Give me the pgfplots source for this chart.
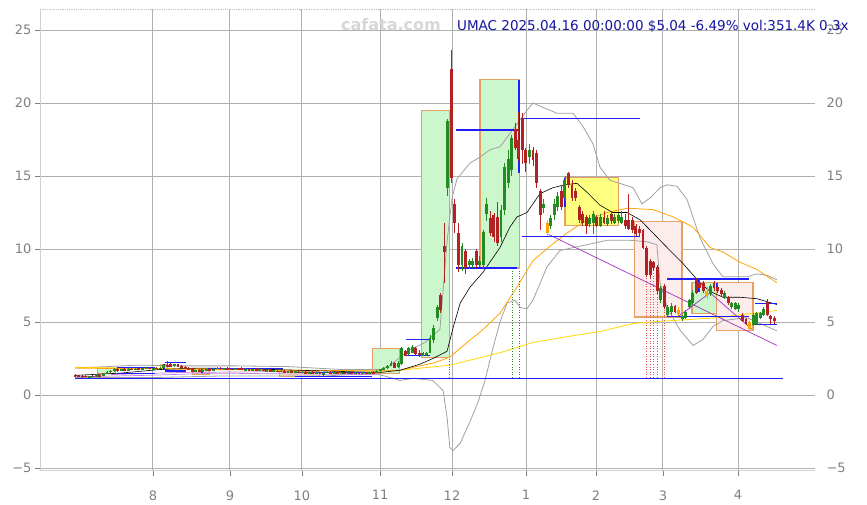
\documentclass[border=0pt]{standalone}
\usepackage{fontspec}
\setmainfont{DejaVu Sans}
\usepackage{pgfplots}
\usepackage{pgfplotstable}
\pgfplotsset{compat=1.18}
\definecolor{cgreen}{RGB}{34,139,34}
\definecolor{cred}{RGB}{178,34,34}
\definecolor{corange}{RGB}{255,165,0}
\definecolor{cgold}{RGB}{255,215,0}
\definecolor{cgrid}{RGB}{176,176,176}
\definecolor{ctick}{RGB}{128,128,128}
\definecolor{lvlblue}{RGB}{30,30,255}
\definecolor{cpurple}{RGB}{160,50,190}
\definecolor{boxgreen}{RGB}{204,247,204}
\definecolor{boxyellow}{RGB}{255,255,128}
\definecolor{boxpink}{RGB}{252,236,236}
\definecolor{boxtan}{RGB}{250,225,190}
\definecolor{boxedge}{RGB}{230,160,100}
\definecolor{ctitle}{RGB}{20,20,160}
\definecolor{cbb}{RGB}{160,160,160}
\definecolor{cdot}{RGB}{224,80,80}

\pgfplotstableread{
i o h l c k
0 1.40 1.45 1.22 1.28 -1
1 1.35 1.40 1.22 1.25 -1
2 1.32 1.38 1.20 1.24 -1
3 1.30 1.36 1.22 1.27 -1
4 1.24 1.34 1.18 1.30 1
5 1.32 1.38 1.22 1.25 -1
6 1.28 1.40 1.24 1.36 1
7 1.38 1.45 1.28 1.30 -1
8 1.32 1.50 1.30 1.46 1
9 1.45 1.62 1.42 1.58 1
10 1.56 1.72 1.50 1.68 1
11 1.66 1.85 1.60 1.80 1
12 1.78 1.84 1.60 1.64 -1
13 1.66 1.80 1.62 1.76 1
14 1.78 1.88 1.66 1.70 -1
15 1.70 1.82 1.66 1.78 1
16 1.80 1.86 1.70 1.74 -1
17 1.74 1.84 1.70 1.80 1
18 1.82 1.88 1.72 1.76 -1
19 1.74 1.86 1.70 1.82 1
20 1.80 1.90 1.76 1.86 1
21 1.86 1.92 1.76 1.80 -1
22 1.78 1.88 1.72 1.84 1
23 1.84 1.90 1.76 1.80 -1
24 1.80 1.92 1.78 1.88 1
25 1.88 2.10 1.85 2.05 1
26 2.05 2.30 1.95 2.00 -1
27 2.15 2.20 1.90 1.95 -1
28 2.00 2.15 1.95 2.10 1
29 2.10 2.15 1.90 1.95 -1
30 2.00 2.05 1.82 1.86 -1
31 1.90 1.98 1.80 1.84 -1
32 1.85 1.92 1.72 1.78 -1
33 1.80 1.85 1.55 1.60 -1
34 1.65 1.75 1.58 1.70 1
35 1.70 1.78 1.60 1.64 -1
36 1.62 1.76 1.58 1.72 1
37 1.72 1.80 1.66 1.76 1
38 1.78 1.82 1.64 1.68 -1
39 1.68 1.84 1.64 1.80 1
40 1.80 1.90 1.76 1.84 1
41 1.86 1.92 1.74 1.78 -1
42 1.78 1.86 1.72 1.82 1
43 1.84 1.90 1.74 1.76 -1
44 1.80 1.88 1.70 1.74 -1
45 1.76 1.84 1.70 1.80 1
46 1.82 1.88 1.72 1.74 -1
47 1.86 1.90 1.70 1.72 -1
48 1.72 1.82 1.68 1.78 1
49 1.78 1.84 1.66 1.70 -1
50 1.72 1.80 1.66 1.76 1
51 1.76 1.82 1.64 1.66 -1
52 1.68 1.78 1.64 1.74 1
53 1.74 1.80 1.62 1.64 -1
54 1.66 1.74 1.60 1.70 1
55 1.70 1.76 1.60 1.62 -1
56 1.64 1.72 1.58 1.68 1
57 1.68 1.74 1.56 1.58 -1
58 1.60 1.70 1.56 1.66 1
59 1.66 1.72 1.54 1.56 -1
60 1.58 1.68 1.54 1.64 1
61 1.64 1.70 1.52 1.54 -1
62 1.56 1.64 1.52 1.60 1
63 1.60 1.66 1.50 1.52 -1
64 1.54 1.62 1.48 1.58 1
65 1.58 1.62 1.46 1.50 -1
66 1.52 1.60 1.48 1.56 1
67 1.56 1.62 1.48 1.50 -1
68 1.52 1.60 1.46 1.56 1
69 1.56 1.60 1.44 1.48 -1
70 1.36 1.58 1.30 1.54 1
71 1.54 1.62 1.48 1.58 1
72 1.58 1.64 1.48 1.50 -1
73 1.52 1.60 1.46 1.56 1
74 1.56 1.62 1.46 1.48 -1
75 1.50 1.58 1.44 1.54 1
76 1.54 1.60 1.44 1.46 -1
77 1.48 1.56 1.42 1.52 1
78 1.52 1.58 1.44 1.46 -1
79 1.46 1.56 1.42 1.52 1
80 1.52 1.58 1.44 1.48 -1
81 1.48 1.56 1.44 1.54 1
82 1.54 1.60 1.46 1.48 -1
83 1.48 1.58 1.44 1.56 1
84 1.56 1.62 1.48 1.50 -1
85 1.56 1.70 1.52 1.66 1
86 1.66 1.80 1.60 1.76 1
87 1.76 1.90 1.70 1.86 1
88 1.84 2.05 1.80 2.00 1
89 2.00 2.30 1.96 2.20 1
90 2.20 2.28 1.82 1.88 -1
91 1.90 2.30 1.86 2.22 1
92 2.10 3.30 2.05 3.20 1
93 3.00 3.10 2.65 2.70 -1
94 2.80 3.30 2.75 3.20 1
95 2.90 3.45 2.85 3.30 1
96 3.20 3.30 2.70 2.80 -1
97 2.85 3.10 2.60 2.75 -1
98 2.70 2.95 2.65 2.90 1
99 2.75 2.95 2.70 2.90 1
100 2.90 4.10 2.85 3.90 1
101 3.80 4.80 3.60 4.60 1
102 5.30 6.20 5.10 6.00 1
103 6.85 7.00 5.60 5.80 -1
104 10.20 11.80 7.70 9.80 -1
105 14.20 18.90 13.60 18.80 1
106 22.30 23.60 14.50 14.90 -1
107 13.10 13.40 11.10 11.80 -1
108 11.10 11.80 8.40 8.90 -1
109 8.90 10.40 8.50 10.20 1
110 9.90 10.00 8.30 8.70 -1
111 8.90 9.30 8.60 9.20 1
112 8.90 9.40 8.70 9.20 1
113 9.90 10.00 8.70 8.90 -1
114 8.90 9.50 8.80 9.20 1
115 8.90 11.30 8.70 11.20 1
116 12.40 13.50 11.90 13.10 1
117 12.10 12.60 10.90 11.10 -1
118 12.30 12.50 10.50 10.80 -1
119 12.20 13.20 10.20 10.40 -1
120 10.80 13.00 10.50 12.70 1
121 12.70 15.90 12.30 15.60 1
122 14.50 16.80 14.20 16.20 1
123 15.40 17.80 15.00 17.60 1
124 18.20 18.60 16.80 16.90 -1
125 17.50 19.40 16.00 16.20 -1
126 19.00 19.30 15.80 16.80 -1
127 16.80 16.90 15.30 15.90 -1
128 16.30 17.20 15.80 16.80 1
129 16.80 17.00 15.70 16.10 -1
130 16.60 16.80 14.20 14.50 -1
131 14.00 14.10 11.30 12.30 -1
132 12.80 13.40 12.50 13.10 1
133 11.80 12.00 10.90 11.10 0
134 11.60 12.30 11.40 12.10 1
135 12.30 13.40 12.00 13.10 1
136 12.90 13.90 12.60 13.60 1
137 14.00 14.40 12.70 12.90 -1
138 13.50 15.00 13.30 14.70 1
139 15.20 15.30 14.20 14.40 -1
140 14.40 14.70 13.30 13.50 -1
141 14.00 14.20 13.30 13.50 -1
142 12.90 13.00 11.80 12.00 -1
143 12.40 12.60 11.60 11.80 -1
144 12.20 12.30 11.00 11.60 -1
145 11.70 12.30 11.50 12.10 1
146 11.80 12.60 11.00 12.40 1
147 12.20 12.30 11.50 11.60 -1
148 11.60 12.40 11.50 12.20 1
149 12.20 12.60 11.70 11.80 -1
150 11.70 12.30 11.60 12.10 1
151 12.40 12.60 11.70 11.90 -1
152 11.80 12.40 11.70 12.20 1
153 11.90 12.50 11.80 12.30 1
154 11.80 12.60 11.70 12.20 1
155 12.00 12.40 11.40 11.60 -1
156 12.00 13.80 11.30 11.40 -1
157 12.00 12.20 11.10 11.30 -1
158 11.60 11.70 10.90 11.00 -1
159 11.40 11.60 10.90 11.10 -1
160 11.30 11.40 10.00 10.10 -1
161 10.10 10.20 8.10 8.20 -1
162 9.20 9.30 8.00 8.20 -1
163 9.10 9.20 8.50 8.70 -1
164 8.80 8.90 6.90 7.10 -1
165 6.50 7.50 6.30 7.30 1
166 7.50 7.60 5.90 6.00 -1
167 5.50 6.20 5.40 6.00 1
168 5.70 6.30 5.50 6.10 1
169 6.10 6.20 5.60 5.70 -1
170 5.80 6.00 5.40 5.55 0
171 5.20 5.50 5.10 5.40 1
172 5.30 5.80 5.20 5.70 1
173 6.00 6.60 5.90 6.50 1
174 6.30 7.20 6.20 7.00 1
175 7.90 8.00 6.90 7.00 -1
176 7.70 7.90 7.20 7.30 -1
177 7.70 7.80 7.00 7.10 -1
178 7.10 7.40 6.60 6.80 0
179 6.90 7.60 6.80 7.50 1
180 7.70 7.80 7.10 7.30 -1
181 7.40 7.60 7.00 7.10 -1
182 7.20 7.30 6.80 6.90 -1
183 6.70 7.10 6.60 7.00 1
184 6.70 6.80 6.20 6.30 -1
185 6.00 6.40 5.90 6.30 1
186 5.90 6.40 5.80 6.30 1
187 5.90 6.30 5.70 6.20 1
188 5.50 5.60 5.00 5.10 -1
189 5.20 5.30 4.80 4.90 -1
190 5.00 5.10 4.40 4.50 0
191 4.80 5.60 4.70 5.50 1
192 4.90 5.70 4.80 5.60 1
193 5.30 5.70 5.20 5.60 1
194 5.50 6.00 5.40 5.90 1
195 6.40 6.60 5.40 5.50 -1
196 5.40 5.50 4.90 5.20 -1
197 5.30 5.40 4.90 5.04 -1
}\candledata

\pgfplotsset{
  candle/.style n args={3}{only marks, mark=*, mark size=0pt,
    mark options={draw opacity=0, fill opacity=0}, forget plot,
    restrict expr to domain={\thisrow{k}}{#1},
    error bars/.cd, y dir=both, y explicit, error mark=none,
    error bar style={line width=#3, draw=#2, solid}},
  lvl/.style={draw=lvlblue, color=lvlblue, line width=1.1bp, mark=none},
}

\begin{document}
\begin{tikzpicture}
\useasboundingbox (0,0) rectangle (867bp,505bp);
\begin{axis}[
  at={(40bp,34bp)}, anchor=south west,
  width=775bp, height=462bp, scale only axis,
  xmin=-9.86, xmax=208.45, ymin=-5.2, ymax=26.44,
  axis line style={draw=none},
  xtick={21.97,43.66,63.94,85.92,106.2,127.04,146.76,165.63,186.76},
  xticklabels={8,9,10,11,12,1,2,3,4},
  ytick={-5,0,5,10,15,20,25},
  yticklabels={−5,0,5,10,15,20,25},
  xtick pos=left, ytick pos=left,
  tick align=outside, major tick length=5bp,
  major tick style={ctick, line width=0.8bp},
  grid=major, major grid style={cgrid, line width=1bp},
  tick label style={font=\fontsize{13bp}{15bp}\selectfont, text=ctick},
  xticklabel style={yshift=-11bp},
  unbounded coords=discard,
]
% boxes
\addplot[fill=boxgreen, draw=boxedge, line width=1.2bp] coordinates {(97.5,2.6) (105.4,2.6) (105.4,19.5) (97.5,19.5)} --cycle;
\addplot[fill=boxgreen, draw=boxedge, line width=1.2bp] coordinates {(114.1,8.7) (125.1,8.7) (125.1,21.6) (114.1,21.6)} --cycle;
\addplot[fill=boxgreen, draw=boxedge, line width=1.2bp] coordinates {(83.7,1.5) (91.3,1.5) (91.3,3.2) (83.7,3.2)} --cycle;
\addplot[fill=boxyellow, draw=boxedge, line width=1.2bp] coordinates {(138,11.6) (153,11.6) (153,14.9) (138,14.9)} --cycle;
\addplot[fill=boxpink, draw=boxedge, line width=1.2bp] coordinates {(157.7,5.35) (171,5.35) (171,11.9) (157.7,11.9)} --cycle;
\addplot[fill=boxgreen, draw=boxedge, line width=1.2bp] coordinates {(173.8,5.6) (180.8,5.6) (180.8,7.7) (173.8,7.7)} --cycle;
\addplot[fill=boxpink, draw=boxedge, line width=1.2bp] coordinates {(180.6,4.4) (191,4.4) (191,7.7) (180.6,7.7)} --cycle;
\addplot[fill=boxgreen, draw=boxedge, line width=1bp] coordinates {(6.2,1.45) (11.3,1.45) (11.3,1.85) (6.2,1.85)} --cycle;
\addplot[fill=boxtan, draw=boxedge, line width=1bp] coordinates {(24,1.8) (26,1.8) (26,2.1) (24,2.1)} --cycle;
\addplot[fill=boxtan, draw=boxedge, line width=1bp] coordinates {(33,1.4) (38,1.4) (38,1.8) (33,1.8)} --cycle;
\addplot[fill=boxtan, draw=boxedge, line width=1bp] coordinates {(57.7,1.3) (69,1.3) (69,1.6) (57.7,1.6)} --cycle;
% Bollinger bands
\addplot[cbb, line width=0.8bp, mark=none] coordinates {(0,1.85) (18,2.05) (30,2.0) (45,2.0) (60,1.95) (75,1.75) (86,1.75) (88.7,2.0) (93.5,3.0) (98.6,3.6) (102.8,4.5) (104.8,10.5) (106.2,13.5) (107.6,14.8) (111.3,15.9) (114.1,16.3) (116.9,16.8) (119.7,17.0) (123.4,18.2) (127.3,19.5) (129,20.0) (131.8,19.7) (135.8,19.3) (140.3,19.3) (143.1,18.4) (145.9,17.2) (147.9,15.6) (150.7,14.7) (153.5,14.5) (157.2,14.2) (159.7,13.1) (162,13.5) (164.8,14.2) (166.8,14.4) (169.6,14.3) (172.4,13.4) (176,10.8) (179.7,9.0) (182.5,8.1) (189.3,8.1) (192.1,8.3) (194.9,8.2) (197.7,7.9)};
\addplot[cbb, line width=0.8bp, mark=none] coordinates {(0,1.2) (22,1.2) (40,1.3) (70,1.3) (84,1.5) (89.6,1.15) (91.5,1.0) (95.2,1.15) (100.8,1.0) (103.7,0.3) (104.8,-1.5) (105.6,-3.6) (106.5,-3.8) (108.5,-3.3) (111.3,-1.8) (113.5,-0.5) (115.5,1.0) (117.5,3.0) (119.7,5.0) (121.7,6.3) (123.9,6.5) (125.4,6.0) (127.3,5.9) (129,6.5) (133,8.8) (136.6,9.9) (140.3,10.1) (144.2,10.3) (149.9,10.6) (156.3,10.6) (161.1,10.5) (163.9,10.3) (164.8,7.7) (166.8,6.0) (170.4,4.45) (174.1,3.4) (176.9,3.8) (179.7,4.7) (182.5,5.1) (189.3,5.3) (194.9,4.7) (197.7,4.4)};
% moving averages
\addplot[cgold, line width=0.8bp, mark=none] coordinates {(0,1.9) (30,1.8) (60,1.7) (86,1.65) (91.5,1.7) (105.6,2.05) (119.7,2.9) (129,3.6) (138.6,4.0) (147.9,4.35) (157.2,4.9) (164.8,5.05) (181,5.3) (197.7,5.8)};
\addplot[corange, line width=0.8bp, mark=none] coordinates {(0,1.85) (20,1.8) (40,1.75) (60,1.7) (86,1.65) (91.5,1.7) (101,2.2) (105.6,2.6) (110.4,3.6) (115,4.5) (119.7,5.6) (124.5,7.4) (129,9.2) (133.8,10.2) (138.6,11.1) (144.2,12.0) (149.9,12.5) (155.5,12.8) (162.8,12.7) (168.5,12.2) (174.1,11.5) (178.9,10.1) (182.5,9.8) (187.3,9.1) (192.1,8.6) (197.7,7.7)};
\addplot[black, line width=0.6bp, mark=none] coordinates {(0,1.35) (12.7,1.5) (24,1.75) (35,1.85) (49,1.8) (63,1.7) (77.5,1.6) (86,1.55) (91.5,1.7) (97,2.1) (100.8,2.5) (104.8,3.0) (106.6,4.7) (108.5,6.3) (111.3,7.4) (114.9,8.4) (119.7,10.1) (122.5,11.5) (124.5,12.2) (127.3,12.5) (131,13.8) (134.6,14.2) (138,14.4) (141.4,14.5) (144.2,13.9) (147.9,13.0) (151.5,12.5) (155.5,12.5) (159.2,12.0) (162,11.3) (166.8,10.1) (171.3,9.0) (176,7.7) (178.9,7.1) (182.5,6.7) (187.3,6.7) (192.1,6.6) (197.7,6.2)};
% dotted signal lines
\addplot[cgreen, dotted, line width=0.6bp, mark=none] coordinates {(105.4,1.2) (105.4,2.6)};
\addplot[cgreen, dotted, line width=0.6bp, mark=none] coordinates {(123.1,1.2) (123.1,8.6)};
\addplot[cgreen, dotted, line width=0.6bp, mark=none] coordinates {(125.1,1.2) (125.1,8.6)};
\addplot[cdot, dotted, line width=0.6bp, mark=none] coordinates {(160.8,1.2) (160.8,8.2)};
\addplot[cdot, dotted, line width=0.6bp, mark=none] coordinates {(162,1.2) (162,8.2)};
\addplot[cdot, dotted, line width=0.6bp, mark=none] coordinates {(162.8,1.2) (162.8,8.4)};
\addplot[cdot, dotted, line width=0.6bp, mark=none] coordinates {(163.9,1.2) (163.9,8.2)};
\addplot[cdot, dotted, line width=0.6bp, mark=none] coordinates {(165.9,1.2) (165.9,7.4)};
% purple lines
\addplot[cpurple, line width=0.7bp, mark=none] coordinates {(133.4,11.0) (197.7,3.4)};
\addplot[cpurple, line width=0.7bp, mark=none] coordinates {(170,5.4) (178.9,7.0) (190.7,4.5)};
\addplot[cpurple!60, line width=0.7bp, mark=none] coordinates {(0,1.25) (20,1.35) (40,1.5) (60,1.45) (85,1.4)};
\addplot[cpurple!60, line width=0.7bp, mark=none] coordinates {(10,1.4) (30,1.55) (55,1.6) (80,1.5)};
% blue levels
\addplot[lvl] coordinates {(0,1.15) (199.5,1.15)};
\addplot[lvl] coordinates {(107.3,18.15) (125,18.15)};
\addplot[lvl] coordinates {(126,18.97) (159.2,18.97)};
\addplot[lvl] coordinates {(107.3,8.7) (124.5,8.7)};
\addplot[lvl] coordinates {(126,10.87) (159.2,10.87)};
\addplot[lvl] coordinates {(166.8,7.95) (189.9,7.95)};
\addplot[lvl] coordinates {(166.8,5.35) (189.9,5.35)};
\addplot[lvl] coordinates {(191.5,6.3) (197.7,6.3)};
\addplot[lvl] coordinates {(191.5,4.86) (197.7,4.86)};
\addplot[lvl] coordinates {(93.2,3.8) (100,3.8)};
\addplot[lvl] coordinates {(93.2,2.7) (100,2.7)};
\addplot[lvl] coordinates {(11.8,1.9) (22.5,1.9)};
\addplot[lvl] coordinates {(11.8,1.5) (22.5,1.5)};
\addplot[lvl] coordinates {(25.4,2.2) (31.3,2.2)};
\addplot[lvl] coordinates {(25.4,1.65) (31.3,1.65)};
\addplot[lvl] coordinates {(37.5,1.85) (58.6,1.85)};
\addplot[lvl] coordinates {(62,1.3) (83.7,1.3)};
\addplot[lvl] coordinates {(62,1.55) (83.7,1.55)};
\addplot[lvl, line width=2bp] coordinates {(125.1,15.2) (125.1,21.6)};
\addplot[lvl, line width=2bp] coordinates {(138,12.9) (138,14.9)};
\addplot[lvl, line width=2bp] coordinates {(175.9,7.05) (175.9,8.0)};
\addplot[lvl, line width=2bp] coordinates {(180.8,7.2) (180.8,7.7)};
\addplot[lvl, line width=2bp] coordinates {(25,1.7) (25,2.1)};
\addplot[lvl, line width=2bp] coordinates {(35.8,1.5) (35.8,1.8)};
% candles: wicks
\addplot[candle={0.5:1.5}{cgreen}{0.8bp}] table[x=i, y expr={(\thisrow{h}+\thisrow{l})/2}, y error expr={(\thisrow{h}-\thisrow{l})/2}] {\candledata};
\addplot[candle={-1.5:-0.5}{cred}{0.8bp}] table[x=i, y expr={(\thisrow{h}+\thisrow{l})/2}, y error expr={(\thisrow{h}-\thisrow{l})/2}] {\candledata};
\addplot[candle={-0.5:0.5}{corange}{0.8bp}] table[x=i, y expr={(\thisrow{h}+\thisrow{l})/2}, y error expr={(\thisrow{h}-\thisrow{l})/2}] {\candledata};
% candles: bodies
\addplot[candle={0.5:1.5}{cgreen}{2.9bp}] table[x=i, y expr={(\thisrow{o}+\thisrow{c})/2}, y error expr={max(abs(\thisrow{c}-\thisrow{o})/2,0.04)}] {\candledata};
\addplot[candle={-1.5:-0.5}{cred}{2.9bp}] table[x=i, y expr={(\thisrow{o}+\thisrow{c})/2}, y error expr={max(abs(\thisrow{c}-\thisrow{o})/2,0.04)}] {\candledata};
\addplot[candle={-0.5:0.5}{corange}{2.9bp}] table[x=i, y expr={(\thisrow{o}+\thisrow{c})/2}, y error expr={max(abs(\thisrow{c}-\thisrow{o})/2,0.04)}] {\candledata};
\end{axis}
\begin{axis}[
  at={(40bp,34bp)}, anchor=south west,
  width=775bp, height=462bp, scale only axis,
  xmin=-9.86, xmax=208.45, ymin=-5.2, ymax=26.44,
  hide x axis, axis y line*=right, axis line style={draw=none},
  ytick={-5,0,5,10,15,20,25},
  yticklabels={−5,0,5,10,15,20,25},
  major tick length=0bp,
  tick label style={font=\fontsize{13bp}{15bp}\selectfont, text=ctick},
  yticklabel style={xshift=8bp},
]
\addplot[draw=none, mark=none, forget plot] coordinates {(0,0)};
\end{axis}
% frame
\draw[cgrid!60, line width=1bp] (40bp,34bp) -- (40bp,496bp);
\draw[cgrid!60, line width=1bp] (40bp,34bp) -- (815bp,34bp);
\draw[cgrid!80, line width=0.8bp, densely dotted] (40bp,496bp) -- (815bp,496bp);
\node[font=\bfseries\fontsize{16bp}{18bp}\selectfont, text={rgb,255:red,215;green,215;blue,215}] at (391bp,480bp) {cafata.com};
\node[anchor=west, inner sep=0pt, font=\fontsize{13.5bp}{16bp}\selectfont, text=ctitle] at (457bp,479bp) {UMAC 2025.04.16 00:00:00 \$5.04 -6.49\% vol:351.4K 0.3x};
\end{tikzpicture}
\end{document}
